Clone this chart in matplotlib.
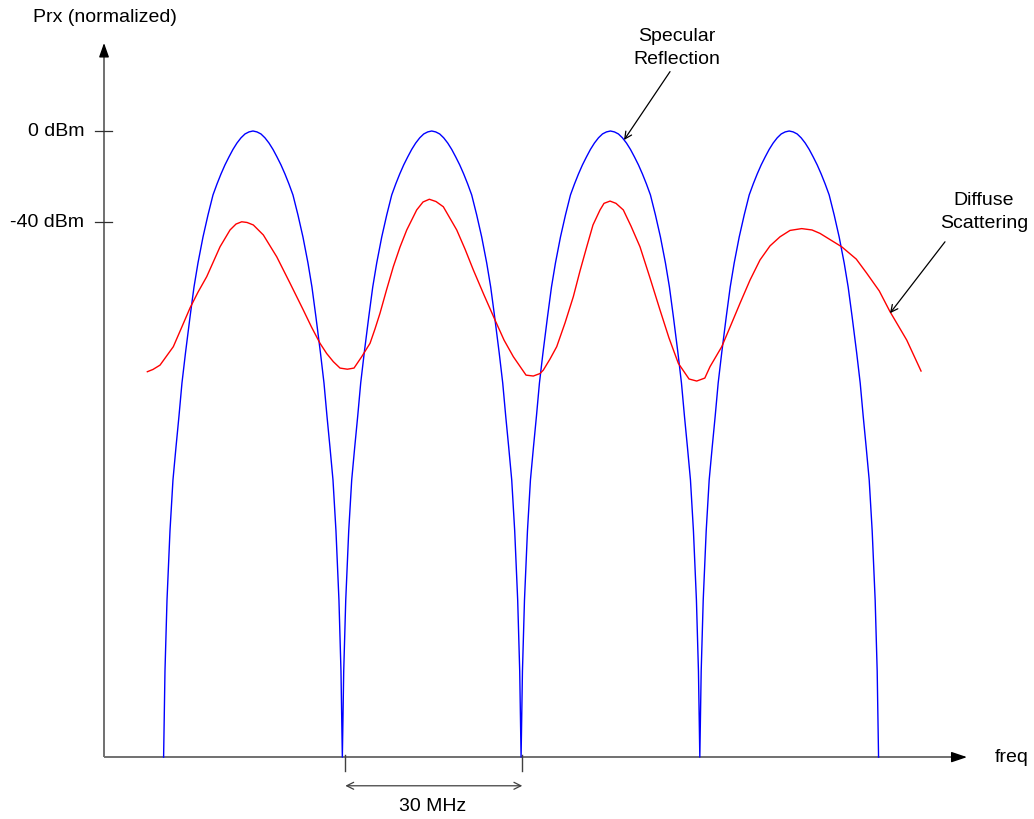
import matplotlib
matplotlib.use("Agg")
import matplotlib.pyplot as plt

plt.rcParams['font.family'] = ['Liberation Sans', 'DejaVu Sans']

# specular reflection (blue): every lobe has the same shape
# offset from lobe centre (MHz) and drop below the 0 dBm peak (dB)
lobe_offset = [0, 0.67, 1.34, 2.01, 2.69, 3.36, 4.03, 4.70, 5.37, 6.04, 6.71, 7.55, 8.39,
               9.23, 9.90, 10.57, 11.33, 11.92, 12.42, 12.92, 13.43, 13.93, 14.43, 14.77, 15.0]
lobe_drop = [0, 0.4, 1.3, 3.0, 5.3, 8.1, 11.4, 14.9, 18.9, 23.3, 28.1, 36.9, 46.6,
             58.0, 68.6, 81.8, 97.6, 110.8, 125.3, 138.9, 153.4, 175.8, 206.2, 237.4, 275.2]
lobe_centres = [25, 55, 85, 115]

# diffuse scattering (red), freq in MHz, power in dBm
red_freq = [7.27, 8.22, 9.40, 11.63, 12.92, 14.43, 15.78, 17.24, 19.47, 21.15, 22.15, 23.11, 24.0,
            25.06, 26.74, 28.99, 31.22, 33.45, 34.83, 36.25, 37.37, 38.49, 39.61, 40.84, 41.96,
            43.25, 44.65, 45.48, 46.32, 47.41, 48.56, 49.68, 50.81, 52.48, 53.54, 54.60, 55.72,
            56.95, 59.20, 60.59, 61.99, 63.78, 65.63, 67.14, 68.70, 70.83, 72.05, 73.18, 73.73,
            74.86, 75.98, 77.37, 78.77, 79.89, 81.02, 82.07, 83.25, 83.92, 84.93, 85.93, 87.16,
            88.45, 89.96, 91.64, 93.32, 94.83, 96.39, 98.19, 99.48, 100.84, 101.71, 103.68, 105.07,
            106.75, 108.43, 110.10, 111.78, 113.46, 115.14, 117.10, 118.83, 120.17, 123.82, 126.26,
            128.01, 130.12, 131.92, 134.73, 137.13]
red_power = [-105.8, -104.8, -102.9, -94.8, -87.0, -77.8, -70.8, -64.0, -50.9, -43.5, -40.9, -39.9, -40.2,
             -41.3, -45.7, -55.3, -66.9, -78.7, -86.2, -93.3, -97.8, -101.4, -104.2, -104.7, -104.2,
             -99.2, -93.3, -87.0, -80.1, -69.9, -59.6, -51.0, -43.5, -34.7, -31.2, -30.0, -31.0,
             -33.3, -43.5, -51.9, -61.1, -72.1, -83.1, -91.9, -99.2, -107.3, -107.7, -106.6, -105.1,
             -100.2, -94.8, -84.4, -72.8, -61.5, -50.9, -41.3, -34.7, -31.8, -30.8, -31.8, -34.7,
             -41.8, -50.9, -64.6, -78.7, -91.0, -102.1, -109.0, -109.9, -108.6, -103.6, -94.8, -86.2,
             -75.7, -65.5, -56.7, -50.5, -46.5, -43.7, -42.9, -43.5, -45.0, -50.9, -56.3,
             -62.5, -70.3, -79.4, -91.9, -105.5]

ytick_vals = [0, -40]
ytick_labels = ['0 dBm', '-40 dBm']
floor = -275.2

# build the blue trace lobe by lobe
blue_freq, blue_power = [], []
for c in lobe_centres:
    for o, d in zip(lobe_offset[::-1], lobe_drop[::-1]):
        blue_freq.append(c - o)
        blue_power.append(-d)
    for o, d in zip(lobe_offset[1:], lobe_drop[1:]):
        blue_freq.append(c + o)
        blue_power.append(-d)

fig = plt.figure(figsize=(10.34, 8.19), dpi=100)
ax = fig.add_axes([0, 0, 1, 1])
ax.set_xlim(-17.46, 156.09)
ax.set_ylim(-302.4, 57.58)
ax.axis('off')

axis_col = '#707070'
# axes with arrow heads
ax.plot([0, 0], [floor, 34.0], color=axis_col, lw=1.4, solid_capstyle='butt')
ax.plot([0, 142.6], [floor, floor], color=axis_col, lw=1.4, solid_capstyle='butt')
ax.annotate('', xy=(0, 38.7), xytext=(0, 33.4),
            arrowprops=dict(arrowstyle='-|>,head_length=0.85,head_width=0.3', color='k',
                            lw=1, shrinkA=0, shrinkB=0))
ax.annotate('', xy=(144.85, floor), xytext=(142.55, floor),
            arrowprops=dict(arrowstyle='-|>,head_length=0.95,head_width=0.32', color='k',
                            lw=1, shrinkA=0, shrinkB=0))

for v, lab in zip(ytick_vals, ytick_labels):
    ax.plot([-1.5, 1.4], [v, v], color='#303030', lw=0.9)
    ax.text(-3.36, v, lab, ha='right', va='center', fontsize=14)

ax.text(0.2, 49.7, 'Prx (normalized)', ha='center', va='center', fontsize=14)
ax.text(149.5, floor, 'freq', ha='left', va='center', fontsize=14)

ax.plot(blue_freq, blue_power, color='#0000ff', lw=1.0, solid_joinstyle='round')
ax.plot(red_freq, red_power, color='#ff0000', lw=1.0, solid_joinstyle='round')

# 30 MHz spacing marker
for f in [40.5, 70.2]:
    ax.plot([f, f], [-274.3, -281.2], color='#404040', lw=1.0)
ax.annotate('', xy=(40.5, -287.8), xytext=(70.2, -287.8),
            arrowprops=dict(arrowstyle='<->,head_length=0.5,head_width=0.25', color='#404040',
                            lw=0.9, shrinkA=0, shrinkB=0))
ax.text(55.1, -296.7, '30 MHz', ha='center', va='center', fontsize=14)

# callouts
ax.text(96.2, 36.5, 'Specular\nReflection', ha='center', va='center', fontsize=14, linespacing=1.4)
ax.annotate('', xy=(87.28, -3.96), xytext=(95.0, 26.1),
            arrowprops=dict(arrowstyle='->,head_length=0.5,head_width=0.25', color='k',
                            lw=0.9, shrinkA=0, shrinkB=0))
ax.text(147.7, -35.6, 'Diffuse\nScattering', ha='center', va='center', fontsize=14, linespacing=1.4)
ax.annotate('', xy=(131.92, -80.1), xytext=(141.15, -48.7),
            arrowprops=dict(arrowstyle='->,head_length=0.5,head_width=0.25', color='k',
                            lw=0.9, shrinkA=0, shrinkB=0))

plt.savefig("out.png", dpi=100)
